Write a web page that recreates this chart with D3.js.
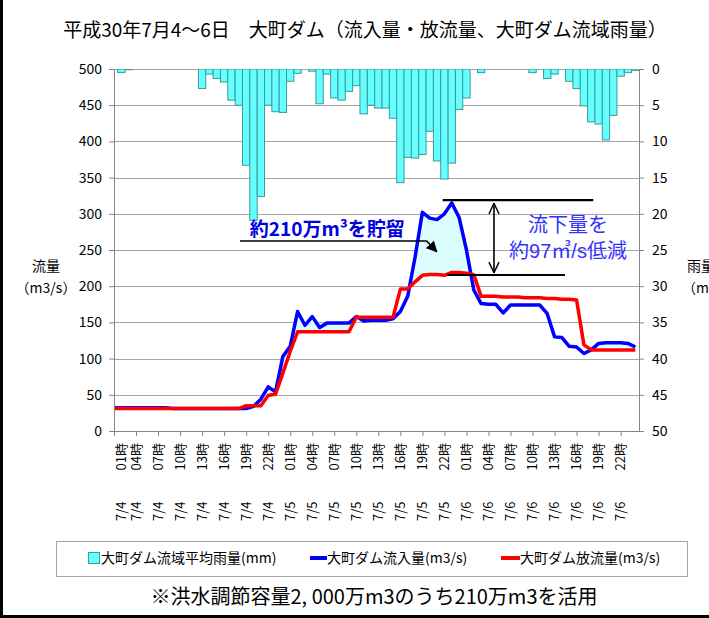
<!DOCTYPE html>
<html><head><meta charset="utf-8">
<script src="https://cdn.jsdelivr.net/npm/d3@7"></script>
<style>
body{margin:0;background:#fff;}
svg{display:block;font-family:"Noto Sans CJK JP","Noto Sans",sans-serif;}
</style></head><body>
<svg id="chart" width="709" height="618"></svg>
<script>
// ---- data ----
const categories = [
"7/4 01時","7/4 02時","7/4 03時","7/4 04時","7/4 05時","7/4 06時","7/4 07時","7/4 08時","7/4 09時","7/4 10時","7/4 11時","7/4 12時",
"7/4 13時","7/4 14時","7/4 15時","7/4 16時","7/4 17時","7/4 18時","7/4 19時","7/4 20時","7/4 21時","7/4 22時","7/4 23時","7/5 00時",
"7/5 01時","7/5 02時","7/5 03時","7/5 04時","7/5 05時","7/5 06時","7/5 07時","7/5 08時","7/5 09時","7/5 10時","7/5 11時","7/5 12時",
"7/5 13時","7/5 14時","7/5 15時","7/5 16時","7/5 17時","7/5 18時","7/5 19時","7/5 20時","7/5 21時","7/5 22時","7/5 23時","7/6 00時",
"7/6 01時","7/6 02時","7/6 03時","7/6 04時","7/6 05時","7/6 06時","7/6 07時","7/6 08時","7/6 09時","7/6 10時","7/6 11時","7/6 12時",
"7/6 13時","7/6 14時","7/6 15時","7/6 16時","7/6 17時","7/6 18時","7/6 19時","7/6 20時","7/6 21時","7/6 22時","7/6 23時","7/7 00時"];
const tickLabels = ["7/4 01時","7/4 04時","7/4 07時","7/4 10時","7/4 13時","7/4 16時","7/4 19時","7/4 22時",
"7/5 01時","7/5 04時","7/5 07時","7/5 10時","7/5 13時","7/5 16時","7/5 19時","7/5 22時",
"7/6 01時","7/6 04時","7/6 07時","7/6 10時","7/6 13時","7/6 16時","7/6 19時","7/6 22時"];
// 大町ダム流域平均雨量 (mm)
const rainfall = [0,0.5,0.1,0,0,0,0,0,0,0,0,0,
2.7,0.7,1.3,1.8,4.3,5.0,13.3,20.9,17.6,5.0,5.9,6.0,
1.7,0.6,0,0.3,4.8,0.7,4.0,4.3,3.1,2.3,6.2,5.0,
5.4,5.4,6.8,15.7,12.2,12.3,11.8,8.6,12.7,15.2,13.0,5.6,
4.0,0,0.5,0,0,0,0,0,0,0.5,0,1.3,
0.7,0,1.7,2.7,5.1,7.3,7.6,9.8,6.4,1.0,0.5,0.2];
// 大町ダム流入量 (m3/s)
const inflow = [32,32,32,32,32,32,32,32,31,31,31,31,
31,31,31,31,31,31,31,34,44,61,54,103,
117,165,146,158,143,149,149,149,149,158,152,153,
153,153,155,165,186,240,302,294,292,300,315,295,
250,195,176,175,175,163,174,174,174,174,174,162,
130,129,117,116,107,112,121,122,122,122,121,116];
// 大町ダム放流量 (m3/s)
const outflow = [31,31,31,31,31,31,31,31,31,31,31,31,
31,31,31,31,31,31,35,35,35,49,51,80,
110,137,137,137,137,137,137,137,137,157,157,157,
157,157,157,196,196,206,215,216,216,215,219,219,
218,216,186,186,186,185,185,185,184,184,184,183,
183,182,182,181,119,112,112,112,112,112,112,112];
const flowTicks = [0,50,100,150,200,250,300,350,400,450,500];
const rainTicks = [0,5,10,15,20,25,30,35,40,45,50];
const seriesNames = ["大町ダム流域平均雨量(mm)","大町ダム流入量(m3/s)","大町ダム放流量(m3/s)"];

// ---- layout ----
const svg = d3.select("#chart");
const L = 114, R = 639, T = 69, B = 431;
const xs = d3.scaleLinear().domain([0, 71.5]).range([L, R]);
const yFlow = d3.scaleLinear().domain([0, 500]).range([B, T]);
const yRain = d3.scaleLinear().domain([0, 50]).range([T, B]);
const bw = xs(1) - xs(0);

svg.append("rect").attr("width",709).attr("height",618).attr("fill","#fff");

// frame edges
svg.append("rect").attr("x",0).attr("y",0).attr("width",3).attr("height",618).attr("fill","#000");
svg.append("rect").attr("x",0).attr("y",615).attr("width",709).attr("height",3).attr("fill","#000");

// title
svg.append("text").attr("x",365).attr("y",37).attr("text-anchor","middle")
  .attr("font-size",19).attr("fill","#000")
  .text("平成30年7月4〜6日　大町ダム（流入量・放流量、大町ダム流域雨量）");

// gridlines
svg.append("g").selectAll("line").data(flowTicks).join("line")
  .attr("x1",L).attr("x2",R).attr("y1",d=>Math.round(yFlow(d))+0.5).attr("y2",d=>Math.round(yFlow(d))+0.5)
  .attr("stroke","#a6a6a6").attr("stroke-width",1);

// clip
svg.append("clipPath").attr("id","plot").append("rect").attr("x",L).attr("y",T).attr("width",R-L).attr("height",B-T);

// bars (rain, hanging from top)
svg.append("g").attr("clip-path","url(#plot)").selectAll("rect").data(rainfall).join("rect")
  .attr("x",(d,i)=>xs(i)-bw/2).attr("width",bw)
  .attr("y",yRain(0)).attr("height",d=>yRain(d)-yRain(0))
  .attr("fill","#66ffff").attr("stroke","#3d9a9a").attr("stroke-width",1)
  .attr("display",d=>d>0?null:"none");

// stored volume fill between inflow and outflow
const pts = [];
for (let i=0;i<inflow.length;i++){
  pts.push({i, hi:Math.max(inflow[i],outflow[i]), lo:outflow[i]});
  if (i<inflow.length-1){
    const d0 = inflow[i]-outflow[i], d1 = inflow[i+1]-outflow[i+1];
    if (d0*d1<0){
      const t = d0/(d0-d1);
      const v = outflow[i]+t*(outflow[i+1]-outflow[i]);
      pts.push({i:i+t, hi:v, lo:v});
    }
  }
}
svg.append("path").datum(pts)
  .attr("d",d3.area().x(d=>xs(d.i)).y0(d=>yFlow(d.lo)).y1(d=>yFlow(d.hi)))
  .attr("fill","#dcfdfd");

// lines
const line = d3.line().x((d,i)=>xs(i)).y(d=>yFlow(d));
svg.append("path").datum(inflow).attr("d",line).attr("fill","none")
  .attr("stroke","#0000ff").attr("stroke-width",3.5).attr("stroke-linejoin","round");
svg.append("path").datum(outflow).attr("d",line).attr("fill","none")
  .attr("stroke","#ff0000").attr("stroke-width",3.5).attr("stroke-linejoin","round");

// axes
const axColor = "#868686";
const gL = svg.append("g").attr("transform",`translate(${L},0)`)
  .call(d3.axisLeft(yFlow).tickValues(flowTicks).tickSize(5).tickSizeOuter(0).tickPadding(7));
const gR = svg.append("g").attr("transform",`translate(${R},0)`)
  .call(d3.axisRight(yRain).tickValues(rainTicks).tickSize(5).tickSizeOuter(0).tickPadding(8));
const tickIdx = tickLabels.map(t=>categories.indexOf(t));
const gB = svg.append("g").attr("transform",`translate(0,${B})`)
  .call(d3.axisBottom(xs).tickValues(tickIdx).tickSize(5).tickSizeOuter(0).tickFormat(""));
[gL,gR,gB].forEach(g=>{
  g.select(".domain").attr("stroke",axColor);
  g.selectAll(".tick line").attr("stroke",axColor);
  g.selectAll("text").attr("font-size",14).attr("fill","#000")
    .attr("font-family",'"Noto Sans CJK JP",sans-serif');
});
gB.select(".domain").attr("d",`M${L},0.5H${R}`);

// rotated x labels
const xl = svg.append("g").attr("font-size",13).attr("fill","#000");
tickLabels.forEach((lab,k)=>{
  const [dt,hr] = lab.split(" ");
  const cx = Math.max(xs(tickIdx[k]) - 1, L + 6);
  xl.append("text").attr("transform",`translate(${cx},443) rotate(-90)`)
    .attr("text-anchor","end").attr("dominant-baseline","central").text(hr);
  xl.append("text").attr("transform",`translate(${cx},521) rotate(-90)`)
    .attr("text-anchor","start").attr("dominant-baseline","central").text(dt);
});

// axis titles
svg.append("text").attr("x",46).attr("y",271).attr("text-anchor","middle").attr("font-size",14).text("流量");
svg.append("text").attr("x",46).attr("y",293).attr("text-anchor","middle").attr("font-size",14).text("（m3/s）");
svg.append("text").attr("x",687).attr("y",271).attr("font-size",14).text("雨量");
svg.append("text").attr("x",682).attr("y",293).attr("font-size",14).text("（mm）");

// ---- annotations ----
const defs = svg.append("defs");
defs.append("marker").attr("id","tri").attr("viewBox","0 0 10 10").attr("refX",9).attr("refY",5)
  .attr("markerWidth",7).attr("markerHeight",7).attr("markerUnits","strokeWidth").attr("orient","auto")
  .append("path").attr("d","M0,0L10,5L0,10z").attr("fill","#000");
defs.append("marker").attr("id","vee").attr("viewBox","0 0 10 10").attr("refX",9.5).attr("refY",5)
  .attr("markerWidth",7).attr("markerHeight",7).attr("markerUnits","strokeWidth").attr("orient","auto-start-reverse")
  .append("path").attr("d","M0,0.5L9.5,5L0,9.5").attr("fill","none").attr("stroke","#000").attr("stroke-width",1.3);

// storage label + leader arrow
const storeY = 262.4;
svg.append("text").attr("x",xs(18.5)).attr("y",yFlow(270)).attr("font-size",19).attr("font-weight","bold")
  .attr("fill","#0000e0").text("約210万m³を貯留");
svg.append("path")
  .attr("d",`M${xs(17.16)},${yFlow(storeY)}H${xs(42.58)}L${xs(43.95)},${yFlow(247.7)}`)
  .attr("fill","none").attr("stroke","#000").attr("stroke-width",1.6).attr("marker-end","url(#tri)");

// reduction bracket
const peakLevel = 319, releaseLevel = 215.5;
svg.append("line").attr("x1",xs(44.76)).attr("x2",xs(65.27)).attr("y1",yFlow(peakLevel)).attr("y2",yFlow(peakLevel))
  .attr("stroke","#000").attr("stroke-width",2.2);
svg.append("line").attr("x1",xs(45.39)).attr("x2",xs(61.42)).attr("y1",yFlow(releaseLevel)).attr("y2",yFlow(releaseLevel))
  .attr("stroke","#000").attr("stroke-width",2);
svg.append("line").attr("x1",xs(51.75)).attr("x2",xs(51.75)).attr("y1",yFlow(314.5)).attr("y2",yFlow(218.6))
  .attr("stroke","#000").attr("stroke-width",1.6).attr("marker-start","url(#vee)").attr("marker-end","url(#vee)");
const noteFont = '"Liberation Sans","Noto Sans CJK JP",sans-serif';
svg.append("text").attr("x",568).attr("y",232).attr("text-anchor","middle").attr("font-size",20)
  .attr("font-family",noteFont).attr("fill","#3333ff").text("流下量を");
svg.append("text").attr("x",568).attr("y",258).attr("text-anchor","middle").attr("font-size",20)
  .attr("font-family",noteFont).attr("fill","#3333ff").text("約97㎥/s低減");

// legend
const lg = svg.append("g");
lg.append("rect").attr("x",56.5).attr("y",541.5).attr("width",631).attr("height",35)
  .attr("fill","#fff").attr("stroke","#a6a6a6");
lg.append("rect").attr("x",88.5).attr("y",552.5).attr("width",11).attr("height",11)
  .attr("fill","#66ffff").attr("stroke","#3d9a9a");
lg.append("text").attr("x",101).attr("y",563).attr("font-size",14).text(seriesNames[0]);
lg.append("line").attr("x1",310).attr("x2",327).attr("y1",558).attr("y2",558).attr("stroke","#0000ff").attr("stroke-width",4);
lg.append("text").attr("x",327).attr("y",563).attr("font-size",14).text(seriesNames[1]);
lg.append("line").attr("x1",501).attr("x2",520).attr("y1",558).attr("y2",558).attr("stroke","#ff0000").attr("stroke-width",4);
lg.append("text").attr("x",520).attr("y",563).attr("font-size",14).text(seriesNames[2]);

// footnote
svg.append("text").attr("x",374).attr("y",604).attr("text-anchor","middle").attr("font-size",20)
  .text("※洪水調節容量2, 000万m3のうち210万m3を活用");
</script>
</body></html>
